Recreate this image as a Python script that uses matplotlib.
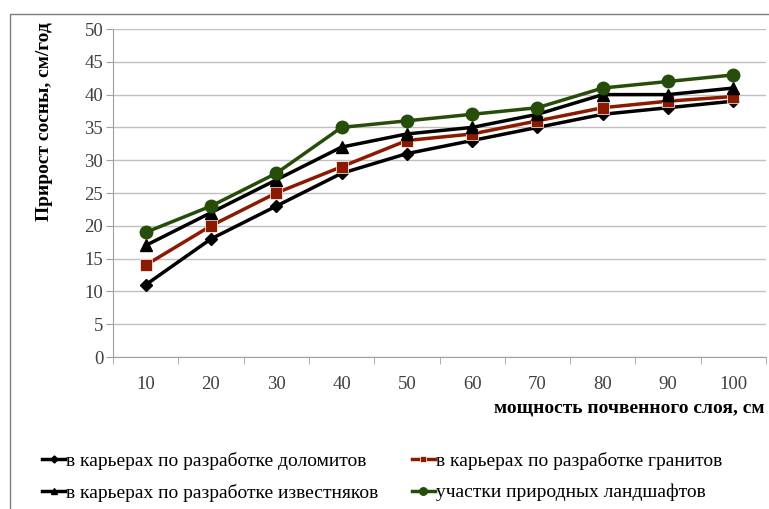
import matplotlib.pyplot as plt
from matplotlib.patches import Rectangle
import numpy as np

plt.rcParams['font.family'] = ['Liberation Serif', 'DejaVu Serif']

depth = [10, 20, 30, 40, 50, 60, 70, 80, 90, 100]
dolomite = [11, 18, 23, 28, 31, 33, 35, 37, 38, 39]
granite = [14, 20, 25, 29, 33, 34, 36, 38, 39, 39.7]
limestone = [17, 22, 27, 32, 34, 35, 37, 40, 40, 41]
natural = [19, 23, 28, 35, 36, 37, 38, 41, 42, 43]

labels = ['в карьерах по разработке доломитов',
          'в карьерах по разработке гранитов',
          'в карьерах по разработке известняков',
          'участки природных ландшафтов']

fig = plt.figure(figsize=(7.69, 5.09), dpi=100)
W, H = 769, 509
ax = fig.add_axes([113 / W, 1 - 357 / H, 653 / W, 328 / H])

# figure border
fig.patches.append(Rectangle((10 / W, -0.1), 1.2, 1 - 14 / H + 0.1,
                             transform=fig.transFigure, fill=False,
                             edgecolor='#7f7f7f', linewidth=1.0))

x = np.arange(len(depth))
ax.plot(x, dolomite, color='black', marker='D', markersize=6, lw=2.5, label=labels[0], zorder=3)
ax.plot(x, granite, color='#8b1a00', marker='s', markersize=8, lw=2.5, label=labels[1], zorder=3,
        markeredgecolor='white', markeredgewidth=0.5)
ax.plot(x, limestone, color='black', marker='^', markersize=8, lw=2.5, label=labels[2], zorder=3)
ax.plot(x, natural, color='#264d0a', marker='o', markersize=9, lw=2.5, label=labels[3], zorder=3)

ax.set_xlim(-0.5, 9.5)
ax.set_ylim(0, 50)
ax.set_yticks(range(0, 51, 5))
ax.set_xticks(x)
ax.set_xticklabels([str(d) for d in depth])
ax.set_xticks(np.arange(-0.5, 10, 1), minor=True)
ax.tick_params(axis='x', which='major', length=0, pad=14, labelsize=13.5, labelcolor='#404040')
ax.tick_params(axis='x', which='minor', length=5, color='#a0a0a0', direction='out')
ax.tick_params(axis='y', length=5, color='#a0a0a0', labelsize=13.5, labelcolor='#404040', pad=2)

ax.grid(axis='y', color='#c0c0c0', lw=1)
ax.set_axisbelow(True)
for s in ['top', 'right']:
    ax.spines[s].set_visible(False)
for s in ['left', 'bottom']:
    ax.spines[s].set_color('#a0a0a0')

fig.text(45 / W, 1 - 122 / H, 'Прирост сосны, см/год', rotation=90, ha='center', va='center',
         fontsize=14, fontweight='bold')
fig.text(765 / W, 1 - 408 / H, 'мощность почвенного слоя, см', ha='right', va='center',
         fontsize=14, fontweight='bold')

h, l = ax.get_legend_handles_labels()
order = [0, 2, 1, 3]
fig.legend([h[i] for i in order], [l[i] for i in order], ncol=2,
           loc='center left', bbox_to_anchor=(42 / W, 1 - 477 / H),
           frameon=False, fontsize=14, handlelength=1.2, handletextpad=0.05,
           columnspacing=1.7, labelspacing=0.7, markerscale=0.6,
           borderpad=0, borderaxespad=0)

fig.savefig('out.png', dpi=100)
